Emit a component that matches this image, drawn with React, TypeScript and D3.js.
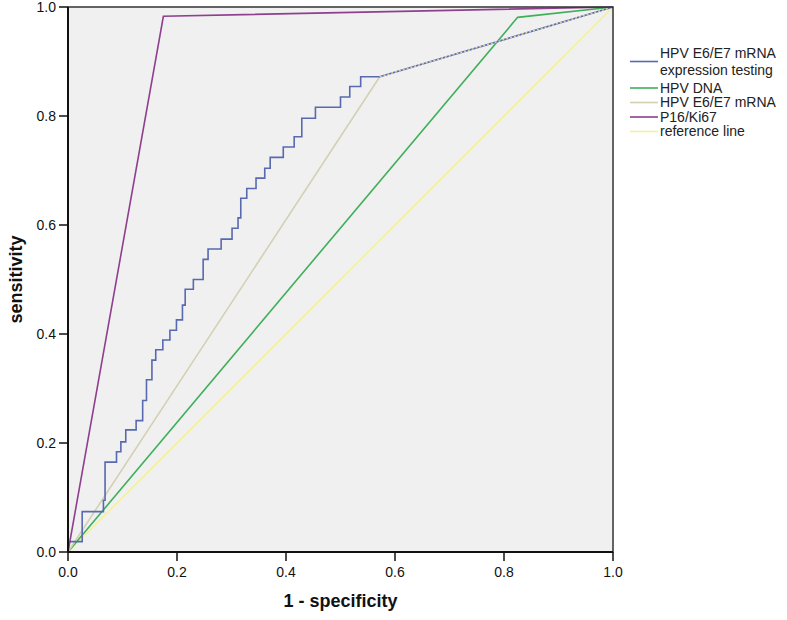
import React from "react";
import * as d3 from "d3";

// ROC step curve for "HPV E6/E7 mRNA expression testing":
// vertical at fpr[i] up to tpr[i], then horizontal to fpr[i+1]
const stepFpr = [0, 0.026, 0.065, 0.068, 0.089, 0.097, 0.106, 0.125, 0.137, 0.144, 0.154, 0.161, 0.174, 0.187, 0.199, 0.21, 0.215, 0.23, 0.248, 0.257, 0.281, 0.301, 0.312, 0.317, 0.328, 0.345, 0.361, 0.371, 0.395, 0.415, 0.429, 0.454, 0.5, 0.517, 0.537];
const stepTpr = [0.019, 0.074, 0.095, 0.165, 0.184, 0.202, 0.224, 0.241, 0.278, 0.316, 0.352, 0.371, 0.389, 0.407, 0.426, 0.453, 0.482, 0.5, 0.537, 0.556, 0.574, 0.594, 0.613, 0.649, 0.667, 0.686, 0.704, 0.724, 0.743, 0.762, 0.796, 0.816, 0.835, 0.854, 0.872];
const stepEndFpr = 0.572;

const dnaFpr = [0, 0.825, 1];
const dnaTpr = [0, 0.981, 1];
const mrnaFpr = [0, 0.572, 1];
const mrnaTpr = [0, 0.872, 1];
const p16Fpr = [0, 0.175, 1];
const p16Tpr = [0, 0.983, 1];
const refFpr = [0, 1];
const refTpr = [0, 1];

const tickValues = [0, 0.2, 0.4, 0.6, 0.8, 1.0];
const legendLabels = [
  ["HPV E6/E7 mRNA", "expression testing"],
  ["HPV DNA"],
  ["HPV E6/E7 mRNA"],
  ["P16/Ki67"],
  ["reference line"],
];

const COLORS = {
  blue: "#5869b0",
  green: "#3faf5a",
  tan: "#d3d0b4",
  purple: "#8e3f8e",
  yellow: "#f2f29a",
};
const legendColors = [COLORS.blue, COLORS.green, COLORS.tan, COLORS.purple, COLORS.yellow];

const FONT = "'Liberation Sans', Arial, sans-serif";

export default function App() {
  const left = 68, right = 613, top = 7, bottom = 552;
  const x = d3.scaleLinear().domain([0, 1]).range([left, right]);
  const y = d3.scaleLinear().domain([0, 1]).range([bottom, top]);
  const line = d3
    .line<[number, number]>()
    .x((d) => x(d[0]))
    .y((d) => y(d[1]));

  const zip = (a: number[], b: number[]) => a.map((v, i) => [v, b[i]] as [number, number]);

  const stepPts: [number, number][] = [[0, 0]];
  let prev = 0;
  stepFpr.forEach((f, i) => {
    stepPts.push([f, prev]);
    stepPts.push([f, stepTpr[i]]);
    prev = stepTpr[i];
  });
  stepPts.push([stepEndFpr, prev]);
  stepPts.push([1, 1]);

  const legendY = [53.5, 88, 102.5, 117, 131.5];
  const lineYOffsets = [8, 0, 0, 0, 0];

  return (
    <svg
      width={787}
      height={620}
      style={{ position: "absolute", left: 0, top: 0, background: "#fff" }}
      fontFamily={FONT}
    >
      <rect x={left} y={top} width={right - left} height={bottom - top} fill="#f0f0f0" />

      <path d={line(zip(refFpr, refTpr)) || ""} fill="none" stroke={COLORS.yellow} strokeWidth={1.6} />
      <path d={line(zip(dnaFpr, dnaTpr)) || ""} fill="none" stroke={COLORS.green} strokeWidth={1.6} />
      <path d={line(zip(mrnaFpr, mrnaTpr)) || ""} fill="none" stroke={COLORS.tan} strokeWidth={1.6} />
      <path d={line(stepPts) || ""} fill="none" stroke={COLORS.blue} strokeWidth={1.6} />
      <path
        d={line(zip(mrnaFpr.slice(1), mrnaTpr.slice(1))) || ""}
        fill="none"
        stroke={COLORS.tan}
        strokeWidth={1.6}
        strokeDasharray="2,2"
      />
      <path d={line(zip(p16Fpr, p16Tpr)) || ""} fill="none" stroke={COLORS.purple} strokeWidth={1.6} />

      <rect x={left} y={top} width={right - left} height={bottom - top} fill="none" stroke="#333" strokeWidth={1.5} />
      <line x1={left} x2={left} y1={top} y2={bottom} stroke="#111" strokeWidth={2} />
      <line x1={left} x2={right} y1={bottom} y2={bottom} stroke="#111" strokeWidth={2} />

      {tickValues.map((t) => (
        <g key={"y" + t}>
          <line x1={left - 9} x2={left} y1={y(t)} y2={y(t)} stroke="#111" strokeWidth={1.5} />
          <text x={left - 12} y={y(t)} dy="0.36em" textAnchor="end" fontSize={14} fill="#111">
            {d3.format(".1f")(t)}
          </text>
        </g>
      ))}
      {tickValues.map((t) => (
        <g key={"x" + t}>
          <line x1={x(t)} x2={x(t)} y1={bottom} y2={bottom + 9} stroke="#111" strokeWidth={1.5} />
          <text x={x(t)} y={577} textAnchor="middle" fontSize={14} fill="#111">
            {d3.format(".1f")(t)}
          </text>
        </g>
      ))}

      <text
        transform={`translate(22,${(top + bottom) / 2}) rotate(-90)`}
        textAnchor="middle"
        fontSize={18}
        fontWeight="bold"
        fill="#111"
      >
        sensitivity
      </text>
      <text x={(left + right) / 2} y={607} textAnchor="middle" fontSize={18} fontWeight="bold" fill="#111">
        1 - specificity
      </text>

      {legendLabels.map((lines, i) => (
        <g key={"leg" + i}>
          <line
            x1={630}
            x2={658}
            y1={legendY[i] + lineYOffsets[i]}
            y2={legendY[i] + lineYOffsets[i]}
            stroke={legendColors[i]}
            strokeWidth={1.6}
          />
          {lines.map((s, j) => (
            <text key={j} x={660} y={legendY[i] + j * 16.5} dy="0.35em" fontSize={14} fill="#222">
              {s}
            </text>
          ))}
        </g>
      ))}
    </svg>
  );
}
